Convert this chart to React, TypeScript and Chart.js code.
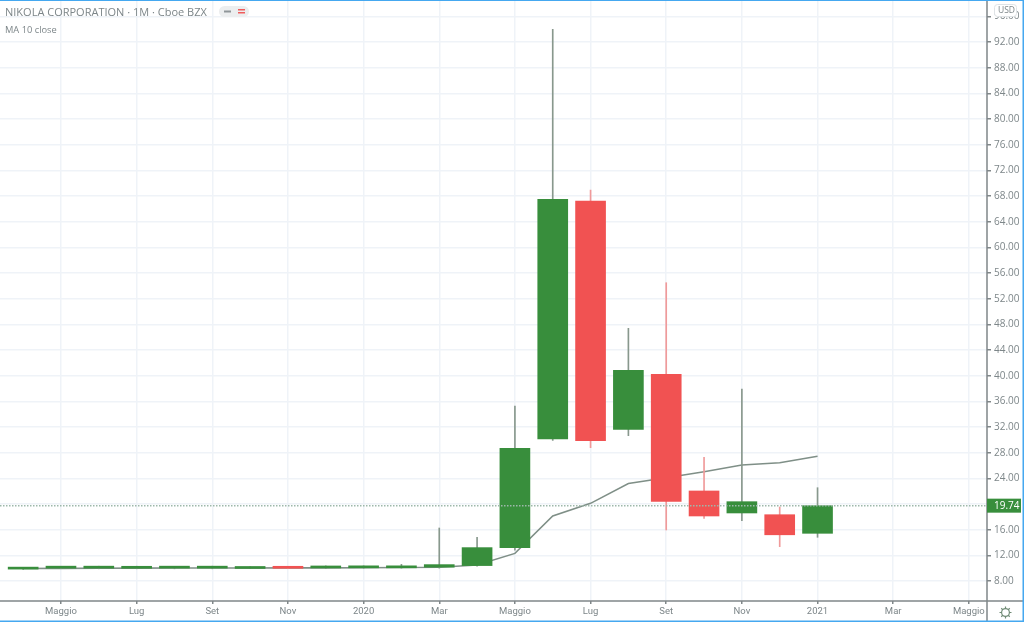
import React, { useEffect, useRef } from "react";
import { Chart, registerables } from "chart.js";

Chart.register(...registerables);

const months = ["Apr 2019","Mag 2019","Giu 2019","Lug 2019","Ago 2019","Set 2019","Ott 2019","Nov 2019","Dic 2019","Gen 2020","Feb 2020","Mar 2020","Apr 2020","Mag 2020","Giu 2020","Lug 2020","Ago 2020","Set 2020","Ott 2020","Nov 2020","Dic 2020","Gen 2021"];
const opens = [9.85,10.0,10.0,9.98,10.0,10.0,9.95,10.15,10.03,10.05,10.05,10.15,10.4,13.2,30.13,67.2,31.64,40.2,22.03,18.6,18.33,15.43];
const closes = [9.95,10.25,10.2,10.23,10.1,10.23,10.1,9.98,10.3,10.3,10.25,10.55,13.2,28.68,67.48,29.86,40.83,20.42,18.13,20.36,15.2,19.74];
const highs = [10.0,10.3,10.3,10.3,10.2,10.3,10.2,10.2,10.35,10.35,10.6,16.26,14.8,35.27,93.97,68.93,47.38,54.49,27.28,37.92,19.53,22.54];
const lows = [9.8,9.9,9.9,9.9,9.9,9.9,9.9,9.9,9.95,10.0,10.0,10.0,10.3,12.8,29.9,28.77,30.65,15.95,17.77,17.4,13.35,14.81];
const ma10 = [9.95,9.97,9.98,10.0,10.02,10.03,10.03,10.04,10.05,10.07,10.1,10.15,10.5,12.3,18.13,20.1,23.2,24.1,25.03,26.07,26.44,27.43];
const yTicks = [96,92,88,84,80,76,72,68,64,60,56,52,48,44,40,36,32,28,24,20,16,12,8];
const hiddenYTickLabels = [20];
const xTickPositions = [1,3,5,7,9,11,13,15,17,19,21,23,25];
const xTickLabels = ["Maggio","Lug","Set","Nov","2020","Mar","Maggio","Lug","Set","Nov","2021","Mar","Maggio"];
const lastPrice = 19.74;
const seriesTitle = "NIKOLA CORPORATION · 1M · Cboe BZX";
const maTitle = "MA 10 close";
const currency = "USD";

const GREEN = "#388e3c";
const RED = "#f15252";
const GREEN_WICK = "#88988d";
const RED_WICK = "#f09a9a";
const GRID = "#eff3f8";
const AXIS = "#808789";
const TEXT = "#7d8689";
const BLUE = "#45a8f0";

const chrome = {
  id: "chrome",
  afterDraw(chart: any) {
    const { ctx, scales } = chart;
    const w = chart.width, h = chart.height;
    const axisX = scales.x.right, axisY = scales.y.bottom;
    ctx.save();
    // axis frame
    ctx.strokeStyle = AXIS;
    ctx.lineWidth = 1.5;
    ctx.beginPath();
    ctx.moveTo(0, axisY); ctx.lineTo(w, axisY);
    ctx.moveTo(axisX, 0); ctx.lineTo(axisX, h);
    ctx.stroke();
    // last price tag
    const py = scales.y.getPixelForValue(lastPrice);
    ctx.fillStyle = GREEN;
    ctx.fillRect(axisX, py - 7, 34, 14);
    ctx.fillStyle = "#ffffff";
    ctx.font = "10px 'Open Sans'";
    ctx.textBaseline = "middle";
    ctx.fillText(lastPrice.toFixed(2), axisX + 7, py + 0.5);
    // currency badge masks top tick
    ctx.fillStyle = "#ffffff";
    ctx.strokeStyle = "#dfe3e6";
    ctx.lineWidth = 1;
    ctx.beginPath();
    ctx.roundRect(994.5, 4.5, 22, 12, 3);
    ctx.fill(); ctx.stroke();
    // status pill
    ctx.fillStyle = "#eceeef";
    ctx.beginPath();
    ctx.roundRect(219, 6, 30, 11, 5.5);
    ctx.fill();
    ctx.fillStyle = "#8f9699";
    ctx.fillRect(224, 10.5, 7, 2);
    ctx.fillStyle = "#ef5c5c";
    ctx.fillRect(238, 9, 7, 1.5);
    ctx.fillRect(238, 12, 7, 1.5);
    // settings gear
    ctx.strokeStyle = "#6f8a75";
    ctx.lineWidth = 1.2;
    const gx = 1005.5, gy = 612.5;
    ctx.beginPath();
    ctx.arc(gx, gy, 3.9, 0, Math.PI * 2);
    ctx.stroke();
    ctx.beginPath();
    for (let i = 0; i < 8; i++) {
      const a = (i * Math.PI) / 4;
      ctx.moveTo(gx + Math.cos(a) * 3.9, gy + Math.sin(a) * 3.9);
      ctx.lineTo(gx + Math.cos(a) * 6, gy + Math.sin(a) * 6);
    }
    ctx.stroke();
    // frame of the screenshot
    ctx.fillStyle = BLUE;
    ctx.fillRect(0, h - 1.5, w, 1.5);
    ctx.fillRect(w - 1.5, 0, 1.5, h);
    ctx.fillRect(0, 0, w, 1);
    ctx.restore();
  },
};

export default function App() {
  const ref = useRef<HTMLCanvasElement>(null);
  useEffect(() => {
    document.body.style.margin = "0";
    const colour = (i: number) => (closes[i] >= opens[i] ? GREEN : RED);
    const wickColour = (i: number) => (closes[i] >= opens[i] ? GREEN_WICK : RED_WICK);
    const chart = new Chart(ref.current as HTMLCanvasElement, {
      type: "bar",
      data: {
        labels: months,
        datasets: [
          {
            type: "line",
            label: maTitle,
            data: ma10.map((y, i) => ({ x: i, y })),
            borderColor: "#7f8f87",
            borderWidth: 1.6,
            pointRadius: 0,
            tension: 0,
            order: 3,
          },
          {
            label: "High-Low",
            data: months.map((_, i) => ({ x: i, y: [lows[i], highs[i]] })),
            backgroundColor: months.map((_, i) => wickColour(i)),
            barThickness: 1,
            grouped: false,
            order: 2,
          },
          {
            label: "Open-Close",
            data: months.map((_, i) => ({ x: i, y: [opens[i], closes[i]] })),
            backgroundColor: months.map((_, i) => colour(i)),
            barThickness: 30,
            minBarLength: 2,
            grouped: false,
            order: 1,
          },
          {
            type: "line",
            label: "Last price",
            data: [{ x: -0.612, y: lastPrice }, { x: 25.48, y: lastPrice }],
            borderColor: "#9db8aa",
            borderWidth: 1.5,
            borderDash: [1.5, 1.5],
            pointRadius: 0,
            order: 0,
          },
        ] as any,
      },
      options: {
        responsive: false,
        animation: false,
        layout: { padding: { top: 1 } },
        plugins: { legend: { display: false }, title: { display: false }, tooltip: { enabled: false } },
        scales: {
          x: {
            type: "linear",
            offset: false,
            min: -0.612,
            max: 25.48,
            afterBuildTicks: (s: any) => { s.ticks = xTickPositions.map((value) => ({ value })); },
            afterFit: (s: any) => { s.height = 21; s.paddingLeft = 0; s.paddingRight = 0; },
            grid: { offset: false, color: GRID, lineWidth: 1.5, tickColor: AXIS, tickLength: 3 },
            border: { display: false },
            ticks: {
              autoSkip: false,
              maxRotation: 0,
              padding: 2,
              font: { family: "Roboto", size: 9.5 },
              color: TEXT,
              callback: (v: any) => xTickLabels[xTickPositions.indexOf(Number(v))] ?? "",
            },
          },
          y: {
            type: "linear",
            position: "right",
            min: 4.88,
            max: 98.4,
            afterBuildTicks: (s: any) => { s.ticks = yTicks.map((value) => ({ value })); },
            afterFit: (s: any) => { s.width = 37; s.paddingTop = 0; s.paddingBottom = 0; },
            grid: { color: GRID, lineWidth: 1.5, tickColor: AXIS, tickLength: 4 },
            border: { display: false },
            ticks: {
              autoSkip: false,
              padding: 3,
              font: { family: "'Open Sans'", size: 10 },
              color: TEXT,
              callback: (v: any) => (hiddenYTickLabels.includes(Number(v)) ? "" : Number(v).toFixed(2)),
            },
          },
        },
      },
      plugins: [chrome],
    } as any);
    return () => chart.destroy();
  }, []);
  const label: React.CSSProperties = { position: "absolute", left: 5, color: TEXT, fontFamily: "'Open Sans'", whiteSpace: "nowrap" };
  return (
    <div style={{ position: "absolute", left: 0, top: 0, width: 1024, height: 622, overflow: "hidden", background: "#fff" }}>
      <canvas ref={ref} width={1024} height={622} style={{ display: "block" }} />
      <div style={{ ...label, top: 4, fontSize: 11 }}>{seriesTitle}</div>
      <div style={{ ...label, top: 23, fontSize: 9.3 }}>{maTitle}</div>
      <div style={{ ...label, left: 998, top: 4, fontSize: 8.5 }}>{currency}</div>
    </div>
  );
}
